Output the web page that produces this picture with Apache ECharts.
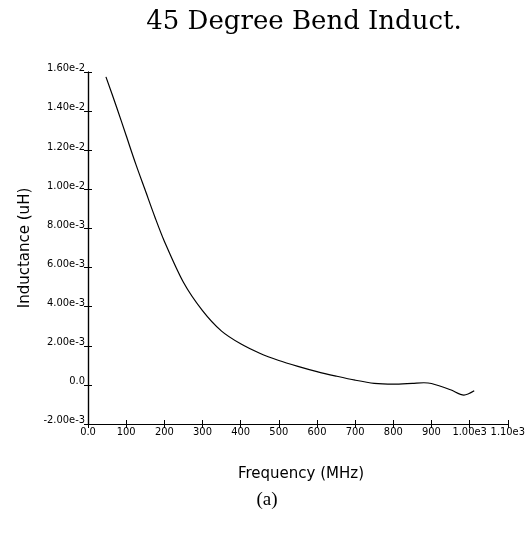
<!DOCTYPE html>
<html>
<head>
<meta charset="utf-8">
<script src="https://cdn.jsdelivr.net/npm/echarts@6/dist/echarts.min.js"></script>
<style>
html,body{margin:0;padding:0;background:#fff;}
#chart{width:528px;height:539px;}
</style>
</head>
<body>
<div id="chart"></div>
<script>
// Frequency (MHz)
const freq = [47, 75, 100, 125, 150, 175, 200, 250, 300, 350, 400, 450, 500, 550, 600, 650, 700, 750, 800, 850, 880, 900, 950, 985, 1012];
// Inductance (uH)
const inductance = [0.01575, 0.0142, 0.01275, 0.0113, 0.00995, 0.0086, 0.00735, 0.00525, 0.0038, 0.00275, 0.0021, 0.00162, 0.00125, 0.00095, 0.00068, 0.00045, 0.00024, 0.00008, 0.00004, 0.00008, 0.00011, 0.00007, -0.00025, -0.00052, -0.0003];
const xTickLabels = {0:'0.0',100:'100',200:'200',300:'300',400:'400',500:'500',600:'600',700:'700',800:'800',900:'900',1000:'1.00e3',1100:'1.10e3'};
const yTickLabels = ['-2.00e-3','0.0','2.00e-3','4.00e-3','6.00e-3','8.00e-3','1.00e-2','1.20e-2','1.40e-2','1.60e-2'];

const titleText = '45 Degree Bend Induct.';
const xName = 'Frequency (MHz)';
const yName = 'Inductance (uH)';
const caption = '(a)';

const chart = echarts.init(document.getElementById('chart'), null, {renderer: 'canvas'});
const tickFont = '"Liberation Sans Narrow", "DejaVu Sans Condensed", "Liberation Sans", sans-serif';
const yLabel = v => {
  const i = Math.round((v + 0.002) / 0.002);
  return yTickLabels[i] !== undefined ? yTickLabels[i] : '';
};
const xLabel = v => xTickLabels[Math.round(v)] !== undefined ? xTickLabels[Math.round(v)] : '';
const axisLine = {show: true, onZero: false, lineStyle: {color: '#000', width: 1.2}};

chart.setOption({
  animation: false,
  backgroundColor: '#fff',
  title: [
    {text: titleText, left: 299, top: 4, textAlign: 'center',
     textStyle: {fontFamily: '"DejaVu Serif", serif', fontSize: 26, fontWeight: 'normal', color: '#000'}},
    {text: caption, left: 262, top: 486, textAlign: 'center',
     textStyle: {fontFamily: '"Liberation Serif", serif', fontSize: 19, fontWeight: 'normal', color: '#000'}},
    {text: xName, left: 296, top: 462, textAlign: 'center',
     textStyle: {fontFamily: '"DejaVu Sans", sans-serif', fontSize: 15, fontWeight: 'normal', color: '#000'}}
  ],
  grid: {left: 88, top: 72, right: 19, bottom: 115},
  xAxis: [
    {type: 'value', min: 0, max: 1100, interval: 100, position: 'bottom',
     axisLine: axisLine,
     axisTick: {show: true, length: 4, lineStyle: {color: '#000'}},
     axisLabel: {formatter: xLabel, color: '#000', fontSize: 11, fontFamily: tickFont, margin: 3},
     splitLine: {show: false}},
    {type: 'value', min: 0, max: 1100, interval: 100, position: 'bottom',
     axisLine: axisLine,
     axisTick: {show: true, inside: true, length: 4, lineStyle: {color: '#000'}},
     axisLabel: {show: false}, splitLine: {show: false}}
  ],
  yAxis: [
    {type: 'value', min: -0.002, max: 0.016, interval: 0.002, position: 'left',
     name: yName, nameLocation: 'middle', nameGap: 55, nameRotate: 90,
     nameTextStyle: {fontFamily: '"DejaVu Sans", sans-serif', fontSize: 15, color: '#000'},
     axisLine: axisLine,
     axisTick: {show: true, length: 4, lineStyle: {color: '#000'}},
     axisLabel: {formatter: yLabel, color: '#000', fontSize: 11, fontFamily: tickFont, margin: 3, verticalAlign: 'bottom', padding: [0, 0, -2, 0]},
     splitLine: {show: false}},
    {type: 'value', min: -0.002, max: 0.016, interval: 0.002, position: 'left',
     axisLine: axisLine,
     axisTick: {show: true, inside: true, length: 4, lineStyle: {color: '#000'}},
     axisLabel: {show: false}, splitLine: {show: false}}
  ],
  series: [{
    type: 'line', xAxisIndex: 0, yAxisIndex: 0,
    data: freq.map((f, i) => [f, inductance[i]]),
    smooth: 0.3, showSymbol: false,
    lineStyle: {color: '#000', width: 1.2}
  }]
});
</script>
</body>
</html>
